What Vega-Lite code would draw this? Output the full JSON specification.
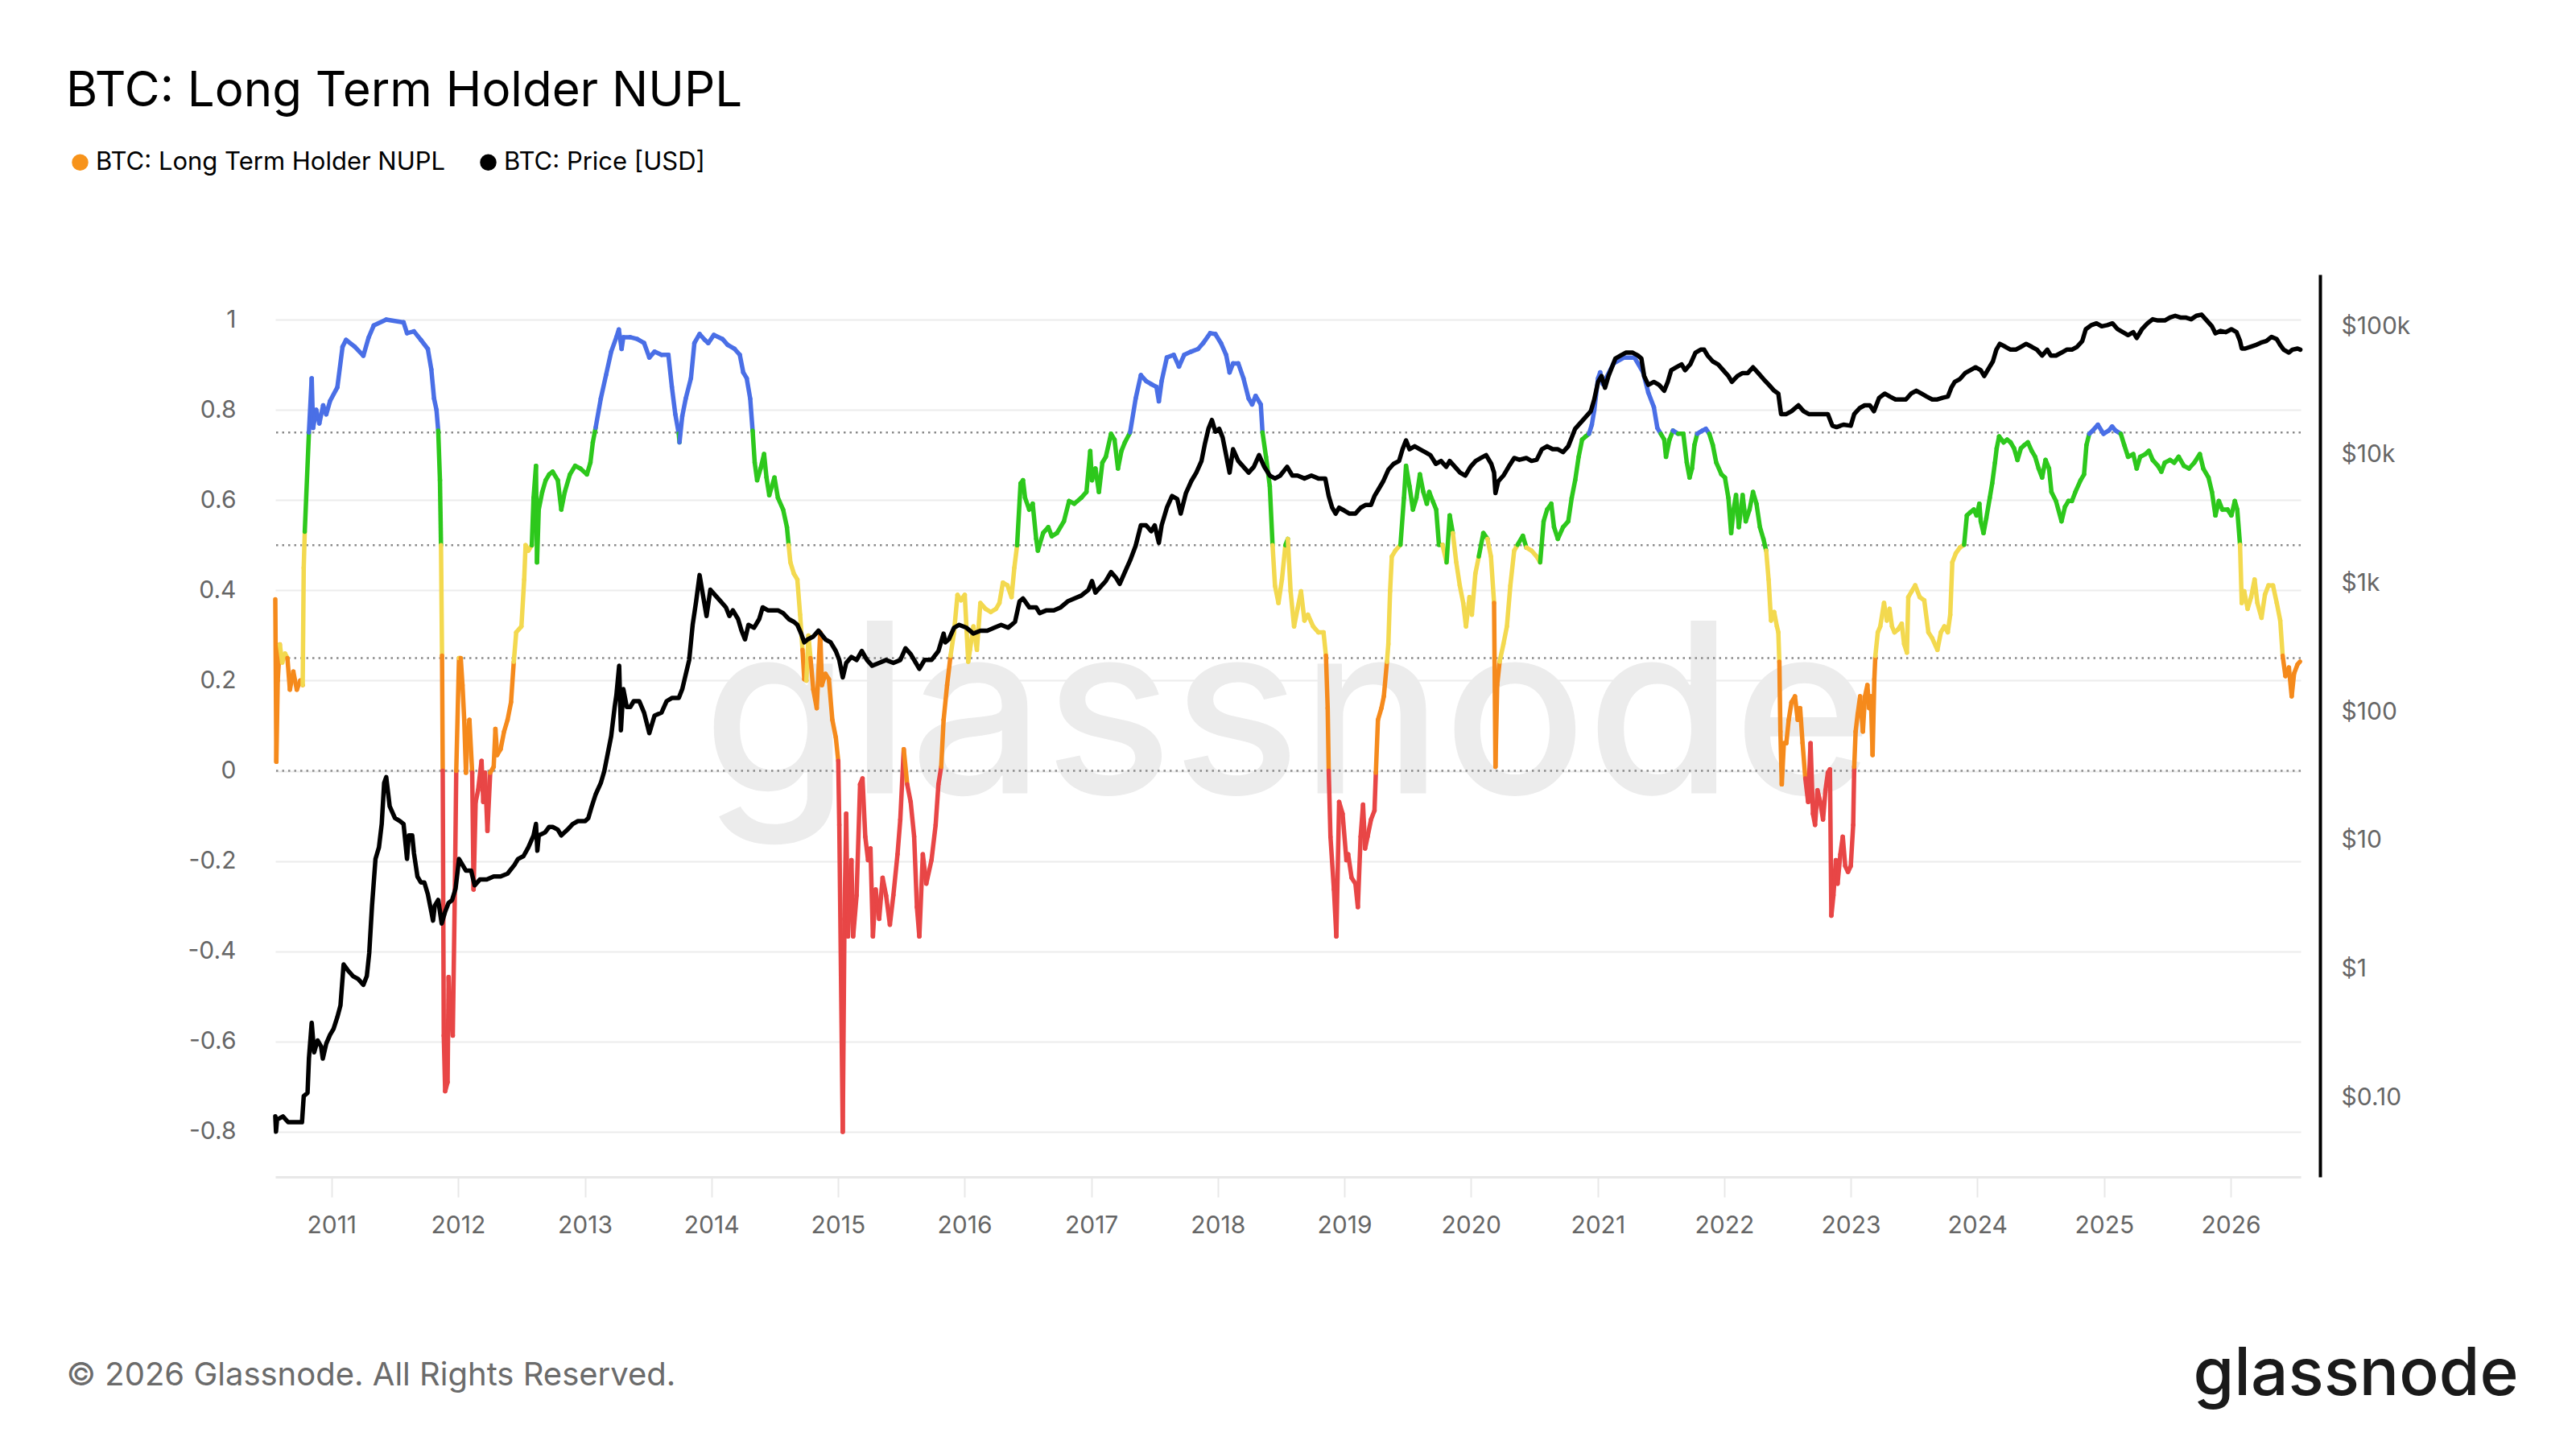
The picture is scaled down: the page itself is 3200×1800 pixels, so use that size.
{
  "$schema": "https://vega.github.io/schema/vega-lite/v6.json",
  "description": "BTC: Long Term Holder NUPL with BTC price",
  "width": 2516,
  "height": 1121,
  "autosize": {"type": "none"},
  "padding": {"left": 342, "top": 341, "right": 342, "bottom": 338},
  "background": "white",
  "config": {"view": {"stroke": null}, "font": "Inter"},
  "title": {
    "text": "BTC: Long Term Holder NUPL",
    "anchor": "start",
    "frame": "group",
    "font": "Inter",
    "fontSize": 60,
    "fontWeight": "normal",
    "color": "#000000",
    "baseline": "alphabetic",
    "dx": -260,
    "offset": -6
  },
  "layer": [
    {
      "layer": [
        {
          "data": {"values": [{"label": "glassnode"}]},
          "mark": {"type": "text", "font": "Inter", "fontSize": 295, "fontWeight": 500, "color": "#ececec", "align": "center", "baseline": "alphabetic"},
          "encoding": {
            "text": {"field": "label"},
            "x": {"datum": {"year": 2018, "month": 7, "date": 22, "utc": true}, "type": "temporal"},
            "y": {"datum": -0.05, "type": "quantitative"}
          }
        },
        {
          "data": {"values": [{"level": 0}, {"level": 0.25}, {"level": 0.5}, {"level": 0.75}]},
          "mark": {"type": "rule", "color": "#8a8a8a", "strokeWidth": 2.5, "strokeDash": [2.5, 5]},
          "encoding": {"y": {"field": "level", "type": "quantitative"}}
        },
        {
          "data": {
            "format": {"parse": {"date": "date"}},
            "values": [
              {"date": "2010-07-23", "value": 0.38}, {"date": "2010-07-26", "value": 0.02}, {"date": "2010-07-30", "value": 0.2}, {"date": "2010-08-05", "value": 0.28},
              {"date": "2010-08-12", "value": 0.24}, {"date": "2010-08-20", "value": 0.26}, {"date": "2010-08-27", "value": 0.25}, {"date": "2010-09-03", "value": 0.18},
              {"date": "2010-09-13", "value": 0.22}, {"date": "2010-09-23", "value": 0.18}, {"date": "2010-10-03", "value": 0.2}, {"date": "2010-10-10", "value": 0.19},
              {"date": "2010-10-13", "value": 0.45}, {"date": "2010-10-16", "value": 0.53}, {"date": "2010-10-28", "value": 0.75}, {"date": "2010-11-05", "value": 0.87},
              {"date": "2010-11-09", "value": 0.76}, {"date": "2010-11-18", "value": 0.8}, {"date": "2010-11-27", "value": 0.77}, {"date": "2010-12-08", "value": 0.81},
              {"date": "2010-12-17", "value": 0.79}, {"date": "2010-12-28", "value": 0.82}, {"date": "2011-01-18", "value": 0.85}, {"date": "2011-02-02", "value": 0.94},
              {"date": "2011-02-12", "value": 0.955}, {"date": "2011-03-09", "value": 0.94}, {"date": "2011-04-03", "value": 0.92}, {"date": "2011-04-18", "value": 0.96},
              {"date": "2011-05-03", "value": 0.987}, {"date": "2011-06-08", "value": 1.0}, {"date": "2011-07-28", "value": 0.994}, {"date": "2011-08-07", "value": 0.97},
              {"date": "2011-08-27", "value": 0.974}, {"date": "2011-09-16", "value": 0.955}, {"date": "2011-10-06", "value": 0.935}, {"date": "2011-10-16", "value": 0.89},
              {"date": "2011-10-24", "value": 0.825}, {"date": "2011-10-31", "value": 0.8}, {"date": "2011-11-05", "value": 0.754}, {"date": "2011-11-10", "value": 0.644},
              {"date": "2011-11-13", "value": 0.5}, {"date": "2011-11-16", "value": 0.255}, {"date": "2011-11-18", "value": 0.0}, {"date": "2011-11-21", "value": -0.587},
              {"date": "2011-11-25", "value": -0.71}, {"date": "2011-12-02", "value": -0.69}, {"date": "2011-12-05", "value": -0.457}, {"date": "2011-12-10", "value": -0.535},
              {"date": "2011-12-17", "value": -0.587}, {"date": "2011-12-23", "value": -0.263}, {"date": "2011-12-27", "value": 0.0}, {"date": "2012-01-04", "value": 0.25},
              {"date": "2012-01-09", "value": 0.25}, {"date": "2012-01-14", "value": 0.19}, {"date": "2012-01-19", "value": 0.113}, {"date": "2012-01-24", "value": -0.004},
              {"date": "2012-01-29", "value": 0.087}, {"date": "2012-02-03", "value": 0.113}, {"date": "2012-02-11", "value": -0.004}, {"date": "2012-02-15", "value": -0.263},
              {"date": "2012-02-21", "value": -0.069}, {"date": "2012-02-28", "value": -0.043}, {"date": "2012-03-09", "value": 0.022}, {"date": "2012-03-14", "value": -0.069},
              {"date": "2012-03-19", "value": -0.004}, {"date": "2012-03-26", "value": -0.133}, {"date": "2012-04-03", "value": -0.004}, {"date": "2012-04-13", "value": 0.009},
              {"date": "2012-04-18", "value": 0.093}, {"date": "2012-04-23", "value": 0.035}, {"date": "2012-05-03", "value": 0.048}, {"date": "2012-05-13", "value": 0.087},
              {"date": "2012-05-23", "value": 0.113}, {"date": "2012-06-02", "value": 0.152}, {"date": "2012-06-10", "value": 0.242}, {"date": "2012-06-17", "value": 0.307},
              {"date": "2012-07-02", "value": 0.32}, {"date": "2012-07-10", "value": 0.424}, {"date": "2012-07-14", "value": 0.5}, {"date": "2012-07-22", "value": 0.488},
              {"date": "2012-08-01", "value": 0.5}, {"date": "2012-08-06", "value": 0.605}, {"date": "2012-08-13", "value": 0.676}, {"date": "2012-08-16", "value": 0.462},
              {"date": "2012-08-21", "value": 0.579}, {"date": "2012-08-31", "value": 0.618}, {"date": "2012-09-10", "value": 0.644}, {"date": "2012-09-20", "value": 0.657},
              {"date": "2012-09-30", "value": 0.663}, {"date": "2012-10-15", "value": 0.644}, {"date": "2012-10-25", "value": 0.579}, {"date": "2012-11-04", "value": 0.618},
              {"date": "2012-11-19", "value": 0.657}, {"date": "2012-12-04", "value": 0.676}, {"date": "2012-12-19", "value": 0.67}, {"date": "2013-01-07", "value": 0.657},
              {"date": "2013-01-17", "value": 0.683}, {"date": "2013-01-24", "value": 0.728}, {"date": "2013-02-01", "value": 0.76}, {"date": "2013-02-16", "value": 0.825},
              {"date": "2013-03-03", "value": 0.877}, {"date": "2013-03-18", "value": 0.929}, {"date": "2013-04-02", "value": 0.961}, {"date": "2013-04-09", "value": 0.978},
              {"date": "2013-04-17", "value": 0.935}, {"date": "2013-04-22", "value": 0.961}, {"date": "2013-05-12", "value": 0.961}, {"date": "2013-06-01", "value": 0.957},
              {"date": "2013-06-21", "value": 0.948}, {"date": "2013-07-06", "value": 0.916}, {"date": "2013-07-21", "value": 0.929}, {"date": "2013-08-10", "value": 0.922},
              {"date": "2013-08-30", "value": 0.922}, {"date": "2013-09-09", "value": 0.851}, {"date": "2013-09-19", "value": 0.79}, {"date": "2013-09-29", "value": 0.747},
              {"date": "2013-10-01", "value": 0.728}, {"date": "2013-10-09", "value": 0.786}, {"date": "2013-10-19", "value": 0.825}, {"date": "2013-11-03", "value": 0.87},
              {"date": "2013-11-13", "value": 0.948}, {"date": "2013-11-28", "value": 0.968}, {"date": "2013-12-13", "value": 0.955}, {"date": "2013-12-23", "value": 0.948},
              {"date": "2014-01-08", "value": 0.966}, {"date": "2014-02-02", "value": 0.957}, {"date": "2014-02-17", "value": 0.944}, {"date": "2014-03-09", "value": 0.935},
              {"date": "2014-03-24", "value": 0.922}, {"date": "2014-04-03", "value": 0.883}, {"date": "2014-04-13", "value": 0.87}, {"date": "2014-04-23", "value": 0.825},
              {"date": "2014-04-30", "value": 0.754}, {"date": "2014-05-06", "value": 0.683}, {"date": "2014-05-13", "value": 0.644}, {"date": "2014-05-23", "value": 0.67},
              {"date": "2014-06-02", "value": 0.702}, {"date": "2014-06-09", "value": 0.65}, {"date": "2014-06-17", "value": 0.611}, {"date": "2014-07-02", "value": 0.65},
              {"date": "2014-07-12", "value": 0.605}, {"date": "2014-07-27", "value": 0.579}, {"date": "2014-08-07", "value": 0.54}, {"date": "2014-08-12", "value": 0.5},
              {"date": "2014-08-17", "value": 0.462}, {"date": "2014-08-27", "value": 0.437}, {"date": "2014-09-06", "value": 0.424}, {"date": "2014-09-14", "value": 0.346},
              {"date": "2014-09-21", "value": 0.268}, {"date": "2014-09-26", "value": 0.203}, {"date": "2014-10-02", "value": 0.2}, {"date": "2014-10-08", "value": 0.3},
              {"date": "2014-10-14", "value": 0.25}, {"date": "2014-10-22", "value": 0.18}, {"date": "2014-11-01", "value": 0.139}, {"date": "2014-11-11", "value": 0.307},
              {"date": "2014-11-16", "value": 0.19}, {"date": "2014-11-26", "value": 0.215}, {"date": "2014-12-06", "value": 0.203}, {"date": "2014-12-16", "value": 0.113},
              {"date": "2014-12-26", "value": 0.074}, {"date": "2015-01-02", "value": 0.022}, {"date": "2015-01-05", "value": -0.12}, {"date": "2015-01-10", "value": -0.457},
              {"date": "2015-01-15", "value": -0.8}, {"date": "2015-01-20", "value": -0.328}, {"date": "2015-01-25", "value": -0.095}, {"date": "2015-01-30", "value": -0.367},
              {"date": "2015-02-09", "value": -0.198}, {"date": "2015-02-14", "value": -0.367}, {"date": "2015-02-24", "value": -0.276}, {"date": "2015-03-06", "value": -0.03},
              {"date": "2015-03-13", "value": -0.017}, {"date": "2015-03-21", "value": -0.146}, {"date": "2015-03-29", "value": -0.198}, {"date": "2015-04-05", "value": -0.172},
              {"date": "2015-04-12", "value": -0.367}, {"date": "2015-04-20", "value": -0.263}, {"date": "2015-04-30", "value": -0.328}, {"date": "2015-05-10", "value": -0.237},
              {"date": "2015-05-20", "value": -0.276}, {"date": "2015-05-31", "value": -0.341}, {"date": "2015-06-10", "value": -0.276}, {"date": "2015-06-22", "value": -0.185},
              {"date": "2015-06-30", "value": -0.108}, {"date": "2015-07-10", "value": 0.048}, {"date": "2015-07-20", "value": -0.03}, {"date": "2015-07-30", "value": -0.069},
              {"date": "2015-08-09", "value": -0.146}, {"date": "2015-08-17", "value": -0.302}, {"date": "2015-08-24", "value": -0.367}, {"date": "2015-09-03", "value": -0.185},
              {"date": "2015-09-13", "value": -0.25}, {"date": "2015-09-28", "value": -0.198}, {"date": "2015-10-10", "value": -0.12}, {"date": "2015-10-18", "value": -0.03},
              {"date": "2015-10-26", "value": 0.009}, {"date": "2015-11-02", "value": 0.113}, {"date": "2015-11-12", "value": 0.19}, {"date": "2015-11-22", "value": 0.255},
              {"date": "2015-12-02", "value": 0.307}, {"date": "2015-12-12", "value": 0.39}, {"date": "2015-12-22", "value": 0.378}, {"date": "2016-01-02", "value": 0.39},
              {"date": "2016-01-12", "value": 0.242}, {"date": "2016-01-17", "value": 0.268}, {"date": "2016-01-27", "value": 0.32}, {"date": "2016-02-06", "value": 0.268},
              {"date": "2016-02-16", "value": 0.372}, {"date": "2016-03-02", "value": 0.359}, {"date": "2016-03-17", "value": 0.352}, {"date": "2016-04-01", "value": 0.359},
              {"date": "2016-04-11", "value": 0.372}, {"date": "2016-04-21", "value": 0.417}, {"date": "2016-05-04", "value": 0.411}, {"date": "2016-05-16", "value": 0.385},
              {"date": "2016-05-24", "value": 0.45}, {"date": "2016-06-01", "value": 0.5}, {"date": "2016-06-11", "value": 0.637}, {"date": "2016-06-18", "value": 0.644},
              {"date": "2016-06-24", "value": 0.605}, {"date": "2016-07-06", "value": 0.579}, {"date": "2016-07-16", "value": 0.592}, {"date": "2016-07-26", "value": 0.514},
              {"date": "2016-07-31", "value": 0.488}, {"date": "2016-08-15", "value": 0.527}, {"date": "2016-08-30", "value": 0.54}, {"date": "2016-09-09", "value": 0.52},
              {"date": "2016-09-24", "value": 0.527}, {"date": "2016-10-14", "value": 0.553}, {"date": "2016-10-29", "value": 0.598}, {"date": "2016-11-13", "value": 0.592},
              {"date": "2016-12-03", "value": 0.605}, {"date": "2016-12-18", "value": 0.618}, {"date": "2016-12-29", "value": 0.709}, {"date": "2017-01-03", "value": 0.644},
              {"date": "2017-01-13", "value": 0.67}, {"date": "2017-01-23", "value": 0.618}, {"date": "2017-02-02", "value": 0.683}, {"date": "2017-02-12", "value": 0.696},
              {"date": "2017-02-27", "value": 0.747}, {"date": "2017-03-09", "value": 0.734}, {"date": "2017-03-19", "value": 0.67}, {"date": "2017-03-29", "value": 0.709},
              {"date": "2017-04-08", "value": 0.728}, {"date": "2017-04-23", "value": 0.75}, {"date": "2017-05-09", "value": 0.825}, {"date": "2017-05-24", "value": 0.877},
              {"date": "2017-06-08", "value": 0.864}, {"date": "2017-06-23", "value": 0.857}, {"date": "2017-07-08", "value": 0.851}, {"date": "2017-07-15", "value": 0.819},
              {"date": "2017-07-23", "value": 0.864}, {"date": "2017-08-07", "value": 0.916}, {"date": "2017-08-27", "value": 0.922}, {"date": "2017-09-11", "value": 0.896},
              {"date": "2017-09-26", "value": 0.922}, {"date": "2017-10-16", "value": 0.929}, {"date": "2017-11-05", "value": 0.935}, {"date": "2017-11-20", "value": 0.948},
              {"date": "2017-12-10", "value": 0.97}, {"date": "2017-12-25", "value": 0.968}, {"date": "2018-01-10", "value": 0.948}, {"date": "2018-01-25", "value": 0.922},
              {"date": "2018-02-04", "value": 0.883}, {"date": "2018-02-14", "value": 0.903}, {"date": "2018-03-01", "value": 0.903}, {"date": "2018-03-16", "value": 0.87},
              {"date": "2018-03-31", "value": 0.825}, {"date": "2018-04-10", "value": 0.812}, {"date": "2018-04-20", "value": 0.831}, {"date": "2018-05-05", "value": 0.812},
              {"date": "2018-05-10", "value": 0.75}, {"date": "2018-05-20", "value": 0.696}, {"date": "2018-05-31", "value": 0.631}, {"date": "2018-06-08", "value": 0.5},
              {"date": "2018-06-15", "value": 0.41}, {"date": "2018-06-25", "value": 0.372}, {"date": "2018-07-05", "value": 0.424}, {"date": "2018-07-15", "value": 0.5},
              {"date": "2018-07-22", "value": 0.514}, {"date": "2018-07-30", "value": 0.398}, {"date": "2018-08-09", "value": 0.32}, {"date": "2018-08-19", "value": 0.359},
              {"date": "2018-08-29", "value": 0.398}, {"date": "2018-09-08", "value": 0.333}, {"date": "2018-09-18", "value": 0.346}, {"date": "2018-10-03", "value": 0.32},
              {"date": "2018-10-18", "value": 0.307}, {"date": "2018-11-02", "value": 0.307}, {"date": "2018-11-09", "value": 0.255}, {"date": "2018-11-14", "value": 0.139},
              {"date": "2018-11-17", "value": 0.0}, {"date": "2018-11-22", "value": -0.146}, {"date": "2018-12-02", "value": -0.263}, {"date": "2018-12-09", "value": -0.367},
              {"date": "2018-12-17", "value": -0.069}, {"date": "2018-12-27", "value": -0.095}, {"date": "2019-01-07", "value": -0.198}, {"date": "2019-01-12", "value": -0.185},
              {"date": "2019-01-22", "value": -0.237}, {"date": "2019-02-02", "value": -0.25}, {"date": "2019-02-09", "value": -0.302}, {"date": "2019-02-17", "value": -0.146},
              {"date": "2019-02-24", "value": -0.075}, {"date": "2019-03-02", "value": -0.172}, {"date": "2019-03-09", "value": -0.146}, {"date": "2019-03-19", "value": -0.108},
              {"date": "2019-03-29", "value": -0.088}, {"date": "2019-04-02", "value": -0.004}, {"date": "2019-04-08", "value": 0.113}, {"date": "2019-04-18", "value": 0.139},
              {"date": "2019-04-25", "value": 0.165}, {"date": "2019-05-04", "value": 0.242}, {"date": "2019-05-08", "value": 0.281}, {"date": "2019-05-13", "value": 0.398},
              {"date": "2019-05-18", "value": 0.475}, {"date": "2019-05-28", "value": 0.488}, {"date": "2019-06-12", "value": 0.501}, {"date": "2019-06-22", "value": 0.605},
              {"date": "2019-06-28", "value": 0.676}, {"date": "2019-07-08", "value": 0.631}, {"date": "2019-07-18", "value": 0.579}, {"date": "2019-07-28", "value": 0.605},
              {"date": "2019-08-07", "value": 0.657}, {"date": "2019-08-17", "value": 0.618}, {"date": "2019-08-27", "value": 0.592}, {"date": "2019-09-03", "value": 0.618},
              {"date": "2019-09-13", "value": 0.598}, {"date": "2019-09-23", "value": 0.579}, {"date": "2019-10-01", "value": 0.501}, {"date": "2019-10-11", "value": 0.501},
              {"date": "2019-10-23", "value": 0.462}, {"date": "2019-11-01", "value": 0.566}, {"date": "2019-11-10", "value": 0.527}, {"date": "2019-11-20", "value": 0.462},
              {"date": "2019-11-30", "value": 0.411}, {"date": "2019-12-10", "value": 0.372}, {"date": "2019-12-18", "value": 0.32}, {"date": "2019-12-28", "value": 0.385},
              {"date": "2020-01-04", "value": 0.346}, {"date": "2020-01-14", "value": 0.437}, {"date": "2020-01-24", "value": 0.475}, {"date": "2020-02-06", "value": 0.527},
              {"date": "2020-02-18", "value": 0.514}, {"date": "2020-02-28", "value": 0.475}, {"date": "2020-03-08", "value": 0.372}, {"date": "2020-03-12", "value": 0.009},
              {"date": "2020-03-17", "value": 0.19}, {"date": "2020-03-24", "value": 0.242}, {"date": "2020-04-04", "value": 0.281}, {"date": "2020-04-14", "value": 0.32},
              {"date": "2020-04-24", "value": 0.411}, {"date": "2020-05-05", "value": 0.488}, {"date": "2020-05-15", "value": 0.501}, {"date": "2020-05-30", "value": 0.521},
              {"date": "2020-06-09", "value": 0.495}, {"date": "2020-06-24", "value": 0.488}, {"date": "2020-07-09", "value": 0.475}, {"date": "2020-07-19", "value": 0.462},
              {"date": "2020-07-29", "value": 0.553}, {"date": "2020-08-08", "value": 0.579}, {"date": "2020-08-20", "value": 0.592}, {"date": "2020-08-28", "value": 0.54},
              {"date": "2020-09-08", "value": 0.514}, {"date": "2020-09-23", "value": 0.54}, {"date": "2020-10-08", "value": 0.553}, {"date": "2020-10-18", "value": 0.605},
              {"date": "2020-10-28", "value": 0.644}, {"date": "2020-11-07", "value": 0.696}, {"date": "2020-11-17", "value": 0.734}, {"date": "2020-11-27", "value": 0.741},
              {"date": "2020-12-07", "value": 0.747}, {"date": "2020-12-15", "value": 0.767}, {"date": "2020-12-22", "value": 0.799}, {"date": "2021-01-02", "value": 0.87},
              {"date": "2021-01-08", "value": 0.883}, {"date": "2021-01-16", "value": 0.857}, {"date": "2021-02-16", "value": 0.903}, {"date": "2021-03-18", "value": 0.916},
              {"date": "2021-04-17", "value": 0.916}, {"date": "2021-05-12", "value": 0.883}, {"date": "2021-05-27", "value": 0.838}, {"date": "2021-06-12", "value": 0.806},
              {"date": "2021-06-22", "value": 0.76}, {"date": "2021-07-02", "value": 0.747}, {"date": "2021-07-12", "value": 0.734}, {"date": "2021-07-17", "value": 0.696},
              {"date": "2021-07-27", "value": 0.734}, {"date": "2021-08-06", "value": 0.754}, {"date": "2021-08-21", "value": 0.747}, {"date": "2021-09-05", "value": 0.747},
              {"date": "2021-09-15", "value": 0.683}, {"date": "2021-09-23", "value": 0.65}, {"date": "2021-09-30", "value": 0.67}, {"date": "2021-10-07", "value": 0.722},
              {"date": "2021-10-15", "value": 0.747}, {"date": "2021-10-30", "value": 0.754}, {"date": "2021-11-09", "value": 0.758}, {"date": "2021-11-19", "value": 0.747},
              {"date": "2021-11-29", "value": 0.722}, {"date": "2021-12-09", "value": 0.683}, {"date": "2021-12-24", "value": 0.657}, {"date": "2022-01-03", "value": 0.65},
              {"date": "2022-01-13", "value": 0.605}, {"date": "2022-01-21", "value": 0.527}, {"date": "2022-01-28", "value": 0.579}, {"date": "2022-02-04", "value": 0.611},
              {"date": "2022-02-12", "value": 0.54}, {"date": "2022-02-23", "value": 0.611}, {"date": "2022-03-04", "value": 0.553}, {"date": "2022-03-15", "value": 0.579},
              {"date": "2022-03-25", "value": 0.618}, {"date": "2022-04-04", "value": 0.592}, {"date": "2022-04-14", "value": 0.54}, {"date": "2022-04-24", "value": 0.514},
              {"date": "2022-05-02", "value": 0.488}, {"date": "2022-05-09", "value": 0.424}, {"date": "2022-05-16", "value": 0.333}, {"date": "2022-05-25", "value": 0.352},
              {"date": "2022-06-02", "value": 0.32}, {"date": "2022-06-06", "value": 0.307}, {"date": "2022-06-09", "value": 0.242}, {"date": "2022-06-12", "value": 0.087},
              {"date": "2022-06-16", "value": -0.03}, {"date": "2022-06-22", "value": 0.061}, {"date": "2022-06-29", "value": 0.061}, {"date": "2022-07-06", "value": 0.113},
              {"date": "2022-07-14", "value": 0.152}, {"date": "2022-07-24", "value": 0.165}, {"date": "2022-08-01", "value": 0.113}, {"date": "2022-08-08", "value": 0.139},
              {"date": "2022-08-15", "value": 0.061}, {"date": "2022-08-23", "value": -0.017}, {"date": "2022-08-31", "value": -0.069}, {"date": "2022-09-07", "value": 0.061},
              {"date": "2022-09-14", "value": -0.095}, {"date": "2022-09-20", "value": -0.12}, {"date": "2022-09-27", "value": -0.043}, {"date": "2022-10-05", "value": -0.069},
              {"date": "2022-10-13", "value": -0.108}, {"date": "2022-10-20", "value": -0.043}, {"date": "2022-10-27", "value": -0.004}, {"date": "2022-11-02", "value": 0.003},
              {"date": "2022-11-06", "value": -0.321}, {"date": "2022-11-12", "value": -0.276}, {"date": "2022-11-19", "value": -0.198}, {"date": "2022-11-24", "value": -0.25},
              {"date": "2022-12-02", "value": -0.185}, {"date": "2022-12-09", "value": -0.146}, {"date": "2022-12-16", "value": -0.211}, {"date": "2022-12-24", "value": -0.224},
              {"date": "2023-01-01", "value": -0.211}, {"date": "2023-01-08", "value": -0.12}, {"date": "2023-01-11", "value": 0.009}, {"date": "2023-01-15", "value": 0.087},
              {"date": "2023-01-21", "value": 0.126}, {"date": "2023-01-28", "value": 0.165}, {"date": "2023-02-05", "value": 0.087}, {"date": "2023-02-11", "value": 0.165},
              {"date": "2023-02-18", "value": 0.19}, {"date": "2023-02-23", "value": 0.139}, {"date": "2023-02-28", "value": 0.165}, {"date": "2023-03-05", "value": 0.035},
              {"date": "2023-03-10", "value": 0.203}, {"date": "2023-03-13", "value": 0.255}, {"date": "2023-03-20", "value": 0.307}, {"date": "2023-03-27", "value": 0.32},
              {"date": "2023-04-07", "value": 0.372}, {"date": "2023-04-15", "value": 0.333}, {"date": "2023-04-23", "value": 0.359}, {"date": "2023-04-30", "value": 0.32},
              {"date": "2023-05-07", "value": 0.307}, {"date": "2023-05-17", "value": 0.313}, {"date": "2023-05-28", "value": 0.326}, {"date": "2023-06-04", "value": 0.281},
              {"date": "2023-06-12", "value": 0.262}, {"date": "2023-06-16", "value": 0.385}, {"date": "2023-06-26", "value": 0.398}, {"date": "2023-07-06", "value": 0.411},
              {"date": "2023-07-19", "value": 0.385}, {"date": "2023-08-01", "value": 0.378}, {"date": "2023-08-13", "value": 0.307}, {"date": "2023-08-24", "value": 0.294},
              {"date": "2023-09-08", "value": 0.268}, {"date": "2023-09-18", "value": 0.307}, {"date": "2023-09-28", "value": 0.32}, {"date": "2023-10-08", "value": 0.307},
              {"date": "2023-10-15", "value": 0.346}, {"date": "2023-10-21", "value": 0.462}, {"date": "2023-10-31", "value": 0.482}, {"date": "2023-11-12", "value": 0.495},
              {"date": "2023-11-24", "value": 0.501}, {"date": "2023-12-02", "value": 0.566}, {"date": "2023-12-12", "value": 0.573}, {"date": "2023-12-22", "value": 0.579},
              {"date": "2023-12-30", "value": 0.566}, {"date": "2024-01-07", "value": 0.592}, {"date": "2024-01-11", "value": 0.553}, {"date": "2024-01-19", "value": 0.527},
              {"date": "2024-01-27", "value": 0.56}, {"date": "2024-02-06", "value": 0.605}, {"date": "2024-02-13", "value": 0.637}, {"date": "2024-02-21", "value": 0.683},
              {"date": "2024-02-26", "value": 0.715}, {"date": "2024-03-04", "value": 0.741}, {"date": "2024-03-17", "value": 0.728}, {"date": "2024-03-27", "value": 0.734},
              {"date": "2024-04-06", "value": 0.728}, {"date": "2024-04-16", "value": 0.715}, {"date": "2024-04-26", "value": 0.689}, {"date": "2024-05-06", "value": 0.715},
              {"date": "2024-05-16", "value": 0.722}, {"date": "2024-05-26", "value": 0.728}, {"date": "2024-06-06", "value": 0.709}, {"date": "2024-06-16", "value": 0.696},
              {"date": "2024-06-26", "value": 0.67}, {"date": "2024-07-06", "value": 0.65}, {"date": "2024-07-16", "value": 0.689}, {"date": "2024-07-26", "value": 0.67},
              {"date": "2024-08-02", "value": 0.618}, {"date": "2024-08-15", "value": 0.598}, {"date": "2024-08-31", "value": 0.553}, {"date": "2024-09-10", "value": 0.585},
              {"date": "2024-09-20", "value": 0.598}, {"date": "2024-09-30", "value": 0.598}, {"date": "2024-10-10", "value": 0.618}, {"date": "2024-10-25", "value": 0.644},
              {"date": "2024-11-04", "value": 0.657}, {"date": "2024-11-11", "value": 0.722}, {"date": "2024-11-19", "value": 0.747}, {"date": "2024-11-29", "value": 0.754},
              {"date": "2024-12-14", "value": 0.767}, {"date": "2024-12-30", "value": 0.747}, {"date": "2025-01-14", "value": 0.754}, {"date": "2025-01-24", "value": 0.763},
              {"date": "2025-02-03", "value": 0.754}, {"date": "2025-02-18", "value": 0.747}, {"date": "2025-02-28", "value": 0.722}, {"date": "2025-03-11", "value": 0.696},
              {"date": "2025-03-26", "value": 0.702}, {"date": "2025-04-05", "value": 0.67}, {"date": "2025-04-15", "value": 0.696}, {"date": "2025-04-30", "value": 0.702},
              {"date": "2025-05-10", "value": 0.709}, {"date": "2025-05-21", "value": 0.689}, {"date": "2025-06-05", "value": 0.676}, {"date": "2025-06-15", "value": 0.663},
              {"date": "2025-06-25", "value": 0.683}, {"date": "2025-07-10", "value": 0.689}, {"date": "2025-07-22", "value": 0.683}, {"date": "2025-08-04", "value": 0.696},
              {"date": "2025-08-19", "value": 0.676}, {"date": "2025-09-03", "value": 0.67}, {"date": "2025-09-18", "value": 0.683}, {"date": "2025-10-04", "value": 0.702},
              {"date": "2025-10-14", "value": 0.67}, {"date": "2025-10-29", "value": 0.65}, {"date": "2025-11-08", "value": 0.618}, {"date": "2025-11-18", "value": 0.566},
              {"date": "2025-11-28", "value": 0.598}, {"date": "2025-12-08", "value": 0.579}, {"date": "2025-12-23", "value": 0.579}, {"date": "2026-01-03", "value": 0.566},
              {"date": "2026-01-13", "value": 0.598}, {"date": "2026-01-20", "value": 0.579}, {"date": "2026-01-28", "value": 0.501}, {"date": "2026-02-02", "value": 0.372},
              {"date": "2026-02-09", "value": 0.398}, {"date": "2026-02-19", "value": 0.359}, {"date": "2026-03-01", "value": 0.385}, {"date": "2026-03-11", "value": 0.424},
              {"date": "2026-03-19", "value": 0.372}, {"date": "2026-03-31", "value": 0.339}, {"date": "2026-04-10", "value": 0.391}, {"date": "2026-04-20", "value": 0.411},
              {"date": "2026-05-03", "value": 0.411}, {"date": "2026-05-14", "value": 0.372}, {"date": "2026-05-24", "value": 0.333}, {"date": "2026-05-31", "value": 0.255},
              {"date": "2026-06-08", "value": 0.21}, {"date": "2026-06-18", "value": 0.229}, {"date": "2026-06-26", "value": 0.165}, {"date": "2026-07-03", "value": 0.216},
              {"date": "2026-07-13", "value": 0.236}, {"date": "2026-07-20", "value": 0.242}
            ]
          },
          "transform": [
            {"window": [{"op": "lead", "field": "date", "as": "date2"}, {"op": "lead", "field": "value", "as": "value2"}], "sort": [{"field": "date", "order": "ascending"}]},
            {"filter": "datum.value2 != null"},
            {"calculate": "(datum.value + datum.value2) / 2 < 0 ? 'red' : (datum.value + datum.value2) / 2 < 0.25 ? 'orange' : (datum.value + datum.value2) / 2 < 0.5 ? 'yellow' : (datum.value + datum.value2) / 2 < 0.75 ? 'green' : 'blue'", "as": "band"}
          ],
          "mark": {"type": "rule", "strokeWidth": 5.5, "strokeCap": "round"},
          "encoding": {
            "x": {
              "field": "date",
              "type": "temporal",
              "scale": {"type": "utc", "domain": [{"year": 2010, "month": 7, "date": 23, "utc": true}, {"year": 2026, "month": 7, "date": 22, "utc": true}]},
              "axis": {
                "format": "%Y",
                "tickCount": {"interval": "year", "step": 1},
                "grid": false,
                "domainColor": "#e8e8e8",
                "domainWidth": 3,
                "tickColor": "#e8e8e8",
                "tickWidth": 2,
                "tickSize": 25,
                "labelPadding": 20,
                "labelFont": "Inter",
                "labelFontSize": 30,
                "labelColor": "#666666",
                "labelFlush": false,
                "labelOverlap": false,
                "title": "© 2026 Glassnode. All Rights Reserved.",
                "titleFont": "Inter",
                "titleFontSize": 40,
                "titleFontWeight": "normal",
                "titleColor": "#6b6b6b",
                "titleAlign": "left",
                "titleBaseline": "alphabetic",
                "titleX": -260,
                "titleY": 258
              }
            },
            "x2": {"field": "date2"},
            "y": {
              "field": "value",
              "type": "quantitative",
              "scale": {"domain": [-0.9, 1.1], "nice": false, "zero": false},
              "axis": {
                "title": null,
                "values": [-0.8, -0.6, -0.4, -0.2, 0, 0.2, 0.4, 0.6, 0.8, 1],
                "labelExpr": "'' + round(datum.value * 10) / 10",
                "grid": true,
                "gridColor": "#ececec",
                "gridWidth": 2,
                "domain": false,
                "ticks": false,
                "labelPadding": 49,
                "labelFont": "Inter",
                "labelFontSize": 30,
                "labelColor": "#666666"
              }
            },
            "y2": {"field": "value2"},
            "stroke": {
              "field": "band",
              "type": "nominal",
              "scale": {"domain": ["red", "orange", "yellow", "green", "blue"], "range": ["#e84646", "#f58a1c", "#f3d94f", "#2dc81c", "#4a6fe6"]},
              "legend": null
            }
          }
        }
      ]
    },
    {
      "data": {
        "format": {"parse": {"date": "date"}},
        "values": [
          {"date": "2010-07-23", "value": 0.071}, {"date": "2010-07-25", "value": 0.054}, {"date": "2010-07-28", "value": 0.067}, {"date": "2010-08-14", "value": 0.071},
          {"date": "2010-08-29", "value": 0.064}, {"date": "2010-09-13", "value": 0.064}, {"date": "2010-09-28", "value": 0.064}, {"date": "2010-10-08", "value": 0.064},
          {"date": "2010-10-13", "value": 0.102}, {"date": "2010-10-24", "value": 0.108}, {"date": "2010-10-28", "value": 0.2}, {"date": "2010-11-05", "value": 0.38},
          {"date": "2010-11-12", "value": 0.224}, {"date": "2010-11-22", "value": 0.277}, {"date": "2010-12-02", "value": 0.249}, {"date": "2010-12-07", "value": 0.2},
          {"date": "2010-12-17", "value": 0.262}, {"date": "2010-12-28", "value": 0.307}, {"date": "2011-01-07", "value": 0.341}, {"date": "2011-01-18", "value": 0.421},
          {"date": "2011-01-27", "value": 0.519}, {"date": "2011-02-05", "value": 1.08}, {"date": "2011-02-17", "value": 0.975}, {"date": "2011-03-04", "value": 0.877},
          {"date": "2011-03-19", "value": 0.832}, {"date": "2011-04-03", "value": 0.75}, {"date": "2011-04-13", "value": 0.877}, {"date": "2011-04-20", "value": 1.33},
          {"date": "2011-04-28", "value": 3.09}, {"date": "2011-05-08", "value": 7.15}, {"date": "2011-05-13", "value": 7.94}, {"date": "2011-05-18", "value": 8.81},
          {"date": "2011-05-26", "value": 13.4}, {"date": "2011-06-02", "value": 27.9}, {"date": "2011-06-08", "value": 31.0}, {"date": "2011-06-18", "value": 18.4},
          {"date": "2011-07-03", "value": 14.9}, {"date": "2011-07-18", "value": 14.1}, {"date": "2011-07-28", "value": 13.4}, {"date": "2011-08-07", "value": 7.15},
          {"date": "2011-08-12", "value": 10.9}, {"date": "2011-08-22", "value": 10.9}, {"date": "2011-08-27", "value": 7.94}, {"date": "2011-09-06", "value": 5.23},
          {"date": "2011-09-16", "value": 4.7}, {"date": "2011-09-26", "value": 4.7}, {"date": "2011-10-06", "value": 3.81}, {"date": "2011-10-16", "value": 2.78},
          {"date": "2011-10-21", "value": 2.37}, {"date": "2011-10-26", "value": 3.09}, {"date": "2011-11-05", "value": 3.43}, {"date": "2011-11-15", "value": 2.25},
          {"date": "2011-11-25", "value": 2.78}, {"date": "2011-12-05", "value": 3.26}, {"date": "2011-12-15", "value": 3.43}, {"date": "2011-12-25", "value": 4.2},
          {"date": "2012-01-04", "value": 7.15}, {"date": "2012-01-14", "value": 6.44}, {"date": "2012-01-24", "value": 5.8}, {"date": "2012-02-08", "value": 5.8},
          {"date": "2012-02-18", "value": 4.46}, {"date": "2012-03-04", "value": 4.95}, {"date": "2012-03-24", "value": 4.95}, {"date": "2012-04-13", "value": 5.23},
          {"date": "2012-05-03", "value": 5.23}, {"date": "2012-05-23", "value": 5.5}, {"date": "2012-06-12", "value": 6.44}, {"date": "2012-06-22", "value": 7.15},
          {"date": "2012-07-08", "value": 7.53}, {"date": "2012-07-22", "value": 8.81}, {"date": "2012-08-06", "value": 10.9}, {"date": "2012-08-13", "value": 13.4},
          {"date": "2012-08-17", "value": 8.3}, {"date": "2012-08-21", "value": 10.9}, {"date": "2012-09-08", "value": 11.5}, {"date": "2012-09-20", "value": 12.7},
          {"date": "2012-09-30", "value": 12.7}, {"date": "2012-10-15", "value": 12.1}, {"date": "2012-10-25", "value": 10.9}, {"date": "2012-11-12", "value": 12.1},
          {"date": "2012-11-27", "value": 13.4}, {"date": "2012-12-12", "value": 14.1}, {"date": "2013-01-02", "value": 14.1}, {"date": "2013-01-11", "value": 14.9},
          {"date": "2013-01-21", "value": 18.4}, {"date": "2013-02-01", "value": 22.7}, {"date": "2013-02-16", "value": 27.9}, {"date": "2013-02-26", "value": 34.5},
          {"date": "2013-03-08", "value": 47.2}, {"date": "2013-03-18", "value": 64.7}, {"date": "2013-03-28", "value": 109}, {"date": "2013-04-02", "value": 135},
          {"date": "2013-04-10", "value": 228}, {"date": "2013-04-15", "value": 71.8}, {"date": "2013-04-22", "value": 150}, {"date": "2013-05-02", "value": 109},
          {"date": "2013-05-12", "value": 109}, {"date": "2013-05-22", "value": 121}, {"date": "2013-06-07", "value": 121}, {"date": "2013-06-21", "value": 98.4},
          {"date": "2013-07-06", "value": 68.2}, {"date": "2013-07-21", "value": 93.3}, {"date": "2013-08-10", "value": 98.4}, {"date": "2013-08-25", "value": 121},
          {"date": "2013-09-09", "value": 128}, {"date": "2013-09-29", "value": 128}, {"date": "2013-10-09", "value": 150}, {"date": "2013-10-19", "value": 195},
          {"date": "2013-10-29", "value": 253}, {"date": "2013-11-08", "value": 475}, {"date": "2013-11-18", "value": 723}, {"date": "2013-11-28", "value": 1159},
          {"date": "2013-12-08", "value": 802}, {"date": "2013-12-18", "value": 556}, {"date": "2013-12-29", "value": 891}, {"date": "2014-01-13", "value": 802},
          {"date": "2014-01-28", "value": 723}, {"date": "2014-02-12", "value": 650}, {"date": "2014-02-22", "value": 556}, {"date": "2014-03-04", "value": 616},
          {"date": "2014-03-19", "value": 527}, {"date": "2014-03-29", "value": 428}, {"date": "2014-04-08", "value": 366}, {"date": "2014-04-18", "value": 475},
          {"date": "2014-05-04", "value": 450}, {"date": "2014-05-19", "value": 527}, {"date": "2014-05-29", "value": 650}, {"date": "2014-06-13", "value": 616},
          {"date": "2014-06-28", "value": 616}, {"date": "2014-07-12", "value": 616}, {"date": "2014-07-27", "value": 586}, {"date": "2014-08-12", "value": 527},
          {"date": "2014-08-27", "value": 501}, {"date": "2014-09-06", "value": 475}, {"date": "2014-09-17", "value": 406}, {"date": "2014-09-26", "value": 347},
          {"date": "2014-10-06", "value": 366}, {"date": "2014-10-22", "value": 385}, {"date": "2014-11-06", "value": 428}, {"date": "2014-11-26", "value": 366},
          {"date": "2014-12-11", "value": 347}, {"date": "2014-12-26", "value": 297}, {"date": "2015-01-05", "value": 253}, {"date": "2015-01-15", "value": 185},
          {"date": "2015-01-25", "value": 240}, {"date": "2015-02-09", "value": 267}, {"date": "2015-02-24", "value": 253}, {"date": "2015-03-11", "value": 297},
          {"date": "2015-03-26", "value": 253}, {"date": "2015-04-10", "value": 228}, {"date": "2015-04-30", "value": 240}, {"date": "2015-05-20", "value": 253},
          {"date": "2015-06-10", "value": 240}, {"date": "2015-06-30", "value": 253}, {"date": "2015-07-15", "value": 312}, {"date": "2015-07-30", "value": 281},
          {"date": "2015-08-14", "value": 240}, {"date": "2015-08-24", "value": 216}, {"date": "2015-09-08", "value": 253}, {"date": "2015-09-28", "value": 253},
          {"date": "2015-10-18", "value": 297}, {"date": "2015-11-02", "value": 406}, {"date": "2015-11-07", "value": 347}, {"date": "2015-11-17", "value": 366},
          {"date": "2015-12-02", "value": 451}, {"date": "2015-12-17", "value": 475}, {"date": "2016-01-07", "value": 451}, {"date": "2016-01-27", "value": 406},
          {"date": "2016-02-16", "value": 428}, {"date": "2016-03-07", "value": 428}, {"date": "2016-03-27", "value": 451}, {"date": "2016-04-16", "value": 475},
          {"date": "2016-05-06", "value": 451}, {"date": "2016-05-26", "value": 501}, {"date": "2016-06-08", "value": 723}, {"date": "2016-06-18", "value": 762},
          {"date": "2016-07-06", "value": 650}, {"date": "2016-07-26", "value": 650}, {"date": "2016-08-05", "value": 586}, {"date": "2016-08-25", "value": 616},
          {"date": "2016-09-15", "value": 616}, {"date": "2016-10-05", "value": 650}, {"date": "2016-10-25", "value": 723}, {"date": "2016-11-13", "value": 762},
          {"date": "2016-12-03", "value": 802}, {"date": "2016-12-24", "value": 891}, {"date": "2017-01-03", "value": 1042}, {"date": "2017-01-13", "value": 846},
          {"date": "2017-01-28", "value": 939}, {"date": "2017-02-12", "value": 1042}, {"date": "2017-02-27", "value": 1222}, {"date": "2017-03-14", "value": 1099},
          {"date": "2017-03-24", "value": 989}, {"date": "2017-04-08", "value": 1222}, {"date": "2017-04-23", "value": 1507}, {"date": "2017-05-09", "value": 1959},
          {"date": "2017-05-24", "value": 2827}, {"date": "2017-06-08", "value": 2827}, {"date": "2017-06-23", "value": 2543}, {"date": "2017-07-03", "value": 2827},
          {"date": "2017-07-15", "value": 2063}, {"date": "2017-07-23", "value": 2827}, {"date": "2017-08-07", "value": 3873}, {"date": "2017-08-22", "value": 4777},
          {"date": "2017-09-06", "value": 4533}, {"date": "2017-09-16", "value": 3486}, {"date": "2017-10-01", "value": 5034}, {"date": "2017-10-16", "value": 6208},
          {"date": "2017-10-31", "value": 7265}, {"date": "2017-11-15", "value": 8960}, {"date": "2017-11-25", "value": 12270}, {"date": "2017-12-05", "value": 15950},
          {"date": "2017-12-15", "value": 18670}, {"date": "2017-12-25", "value": 15130}, {"date": "2018-01-05", "value": 15950}, {"date": "2018-01-15", "value": 13620},
          {"date": "2018-01-25", "value": 9950}, {"date": "2018-02-04", "value": 7265}, {"date": "2018-02-14", "value": 11050}, {"date": "2018-03-01", "value": 8960},
          {"date": "2018-03-16", "value": 8070}, {"date": "2018-03-31", "value": 7265}, {"date": "2018-04-15", "value": 8070}, {"date": "2018-04-30", "value": 9950},
          {"date": "2018-05-15", "value": 8070}, {"date": "2018-05-31", "value": 6890}, {"date": "2018-06-15", "value": 6540}, {"date": "2018-06-30", "value": 6890},
          {"date": "2018-07-20", "value": 8070}, {"date": "2018-08-04", "value": 6890}, {"date": "2018-08-19", "value": 6890}, {"date": "2018-09-08", "value": 6540},
          {"date": "2018-09-28", "value": 6890}, {"date": "2018-10-18", "value": 6540}, {"date": "2018-11-07", "value": 6540}, {"date": "2018-11-17", "value": 4777},
          {"date": "2018-11-27", "value": 3873}, {"date": "2018-12-07", "value": 3486}, {"date": "2018-12-17", "value": 3873}, {"date": "2019-01-01", "value": 3680},
          {"date": "2019-01-16", "value": 3486}, {"date": "2019-02-02", "value": 3486}, {"date": "2019-02-17", "value": 3873}, {"date": "2019-03-04", "value": 4076},
          {"date": "2019-03-19", "value": 4076}, {"date": "2019-03-29", "value": 4777}, {"date": "2019-04-08", "value": 5297}, {"date": "2019-04-23", "value": 6208},
          {"date": "2019-05-08", "value": 7650}, {"date": "2019-05-23", "value": 8500}, {"date": "2019-06-08", "value": 8960}, {"date": "2019-06-18", "value": 11050},
          {"date": "2019-06-28", "value": 12950}, {"date": "2019-07-08", "value": 11050}, {"date": "2019-07-23", "value": 11650}, {"date": "2019-08-07", "value": 11050},
          {"date": "2019-08-22", "value": 10500}, {"date": "2019-09-06", "value": 9950}, {"date": "2019-09-22", "value": 8500}, {"date": "2019-10-07", "value": 8960},
          {"date": "2019-10-22", "value": 8070}, {"date": "2019-11-01", "value": 8960}, {"date": "2019-11-16", "value": 8070}, {"date": "2019-12-01", "value": 7265},
          {"date": "2019-12-16", "value": 6890}, {"date": "2019-12-31", "value": 8070}, {"date": "2020-01-15", "value": 8960}, {"date": "2020-01-30", "value": 9440},
          {"date": "2020-02-14", "value": 9950}, {"date": "2020-02-29", "value": 8500}, {"date": "2020-03-08", "value": 7265}, {"date": "2020-03-12", "value": 5034},
          {"date": "2020-03-20", "value": 6208}, {"date": "2020-04-04", "value": 6890}, {"date": "2020-04-19", "value": 8070}, {"date": "2020-05-05", "value": 9440},
          {"date": "2020-05-20", "value": 9150}, {"date": "2020-06-09", "value": 9440}, {"date": "2020-06-24", "value": 8960}, {"date": "2020-07-09", "value": 9150},
          {"date": "2020-07-24", "value": 11050}, {"date": "2020-08-08", "value": 11650}, {"date": "2020-08-24", "value": 11050}, {"date": "2020-09-08", "value": 11050},
          {"date": "2020-09-23", "value": 10500}, {"date": "2020-10-08", "value": 11650}, {"date": "2020-10-18", "value": 13620}, {"date": "2020-10-28", "value": 15950},
          {"date": "2020-11-12", "value": 17700}, {"date": "2020-11-27", "value": 19660}, {"date": "2020-12-12", "value": 21830}, {"date": "2020-12-22", "value": 26960},
          {"date": "2021-01-02", "value": 36920}, {"date": "2021-01-12", "value": 41020}, {"date": "2021-01-22", "value": 33270}, {"date": "2021-02-01", "value": 41020},
          {"date": "2021-02-11", "value": 48010}, {"date": "2021-02-21", "value": 56140}, {"date": "2021-03-08", "value": 59190}, {"date": "2021-03-23", "value": 62410},
          {"date": "2021-04-12", "value": 62410}, {"date": "2021-04-27", "value": 59190}, {"date": "2021-05-07", "value": 56140}, {"date": "2021-05-15", "value": 41020},
          {"date": "2021-05-27", "value": 35020}, {"date": "2021-06-12", "value": 36920}, {"date": "2021-06-27", "value": 35020}, {"date": "2021-07-12", "value": 31540},
          {"date": "2021-07-22", "value": 36920}, {"date": "2021-08-01", "value": 45530}, {"date": "2021-08-16", "value": 48010}, {"date": "2021-08-31", "value": 50610},
          {"date": "2021-09-10", "value": 45530}, {"date": "2021-09-25", "value": 50610}, {"date": "2021-10-10", "value": 62410}, {"date": "2021-10-25", "value": 65790},
          {"date": "2021-11-04", "value": 65790}, {"date": "2021-11-14", "value": 59190}, {"date": "2021-11-29", "value": 53280}, {"date": "2021-12-14", "value": 50610},
          {"date": "2021-12-29", "value": 45530}, {"date": "2022-01-13", "value": 41020}, {"date": "2022-01-23", "value": 36920}, {"date": "2022-02-08", "value": 41020},
          {"date": "2022-02-23", "value": 43250}, {"date": "2022-03-10", "value": 43250}, {"date": "2022-03-25", "value": 48010}, {"date": "2022-04-09", "value": 43250},
          {"date": "2022-04-24", "value": 38910}, {"date": "2022-05-10", "value": 35020}, {"date": "2022-05-25", "value": 31540}, {"date": "2022-06-06", "value": 29930},
          {"date": "2022-06-14", "value": 20740}, {"date": "2022-06-29", "value": 20740}, {"date": "2022-07-14", "value": 21830}, {"date": "2022-08-03", "value": 24270},
          {"date": "2022-08-18", "value": 21830}, {"date": "2022-09-02", "value": 20740}, {"date": "2022-09-22", "value": 20740}, {"date": "2022-10-12", "value": 20740},
          {"date": "2022-10-27", "value": 20740}, {"date": "2022-11-09", "value": 16830}, {"date": "2022-11-21", "value": 16430}, {"date": "2022-12-11", "value": 17170},
          {"date": "2023-01-01", "value": 16830}, {"date": "2023-01-11", "value": 20740}, {"date": "2023-01-26", "value": 23000}, {"date": "2023-02-10", "value": 24270},
          {"date": "2023-02-25", "value": 24270}, {"date": "2023-03-09", "value": 21830}, {"date": "2023-03-24", "value": 27800}, {"date": "2023-04-09", "value": 29930},
          {"date": "2023-04-24", "value": 28380}, {"date": "2023-05-10", "value": 26960}, {"date": "2023-05-25", "value": 26960}, {"date": "2023-06-09", "value": 26960},
          {"date": "2023-06-24", "value": 29930}, {"date": "2023-07-09", "value": 31540}, {"date": "2023-07-24", "value": 29930}, {"date": "2023-08-08", "value": 28380},
          {"date": "2023-08-24", "value": 26960}, {"date": "2023-09-08", "value": 26960}, {"date": "2023-09-23", "value": 27800}, {"date": "2023-10-08", "value": 28380},
          {"date": "2023-10-18", "value": 33270}, {"date": "2023-10-28", "value": 36920}, {"date": "2023-11-12", "value": 38910}, {"date": "2023-11-27", "value": 43250},
          {"date": "2023-12-12", "value": 45530}, {"date": "2023-12-27", "value": 48010}, {"date": "2024-01-11", "value": 45530}, {"date": "2024-01-21", "value": 41020},
          {"date": "2024-02-05", "value": 48010}, {"date": "2024-02-15", "value": 53280}, {"date": "2024-02-25", "value": 65790}, {"date": "2024-03-06", "value": 72980},
          {"date": "2024-03-22", "value": 69280}, {"date": "2024-04-06", "value": 65790}, {"date": "2024-04-21", "value": 65790}, {"date": "2024-05-06", "value": 69280},
          {"date": "2024-05-21", "value": 72980}, {"date": "2024-06-06", "value": 69280}, {"date": "2024-06-21", "value": 65790}, {"date": "2024-07-06", "value": 59190},
          {"date": "2024-07-21", "value": 65790}, {"date": "2024-07-31", "value": 59190}, {"date": "2024-08-15", "value": 59190}, {"date": "2024-08-31", "value": 62410},
          {"date": "2024-09-15", "value": 65790}, {"date": "2024-09-30", "value": 65790}, {"date": "2024-10-15", "value": 69280}, {"date": "2024-10-30", "value": 76900},
          {"date": "2024-11-09", "value": 94900}, {"date": "2024-11-25", "value": 102100}, {"date": "2024-12-10", "value": 105400}, {"date": "2024-12-25", "value": 100000},
          {"date": "2025-01-10", "value": 102100}, {"date": "2025-01-25", "value": 105400}, {"date": "2025-02-09", "value": 94900}, {"date": "2025-02-24", "value": 90000},
          {"date": "2025-03-11", "value": 85400}, {"date": "2025-03-26", "value": 90000}, {"date": "2025-04-05", "value": 81100}, {"date": "2025-04-20", "value": 94900},
          {"date": "2025-05-06", "value": 105400}, {"date": "2025-05-21", "value": 113400}, {"date": "2025-06-05", "value": 111000}, {"date": "2025-06-25", "value": 111000},
          {"date": "2025-07-10", "value": 117000}, {"date": "2025-07-25", "value": 120800}, {"date": "2025-08-09", "value": 117000}, {"date": "2025-08-24", "value": 117000},
          {"date": "2025-09-09", "value": 113400}, {"date": "2025-09-24", "value": 120800}, {"date": "2025-10-09", "value": 123300}, {"date": "2025-10-24", "value": 111000},
          {"date": "2025-11-08", "value": 100000}, {"date": "2025-11-18", "value": 88200}, {"date": "2025-12-03", "value": 92000}, {"date": "2025-12-18", "value": 90000},
          {"date": "2026-01-03", "value": 94900}, {"date": "2026-01-18", "value": 90000}, {"date": "2026-01-28", "value": 76900}, {"date": "2026-02-02", "value": 67100},
          {"date": "2026-02-12", "value": 67100}, {"date": "2026-02-27", "value": 69280}, {"date": "2026-03-14", "value": 71400}, {"date": "2026-03-29", "value": 74600},
          {"date": "2026-04-14", "value": 76900}, {"date": "2026-04-29", "value": 82800}, {"date": "2026-05-14", "value": 79400}, {"date": "2026-05-24", "value": 71400},
          {"date": "2026-06-03", "value": 65790}, {"date": "2026-06-18", "value": 62410}, {"date": "2026-06-28", "value": 65790}, {"date": "2026-07-13", "value": 67100},
          {"date": "2026-07-21", "value": 65790}
        ]
      },
      "mark": {"type": "line", "strokeWidth": 5.5, "strokeJoin": "round", "strokeCap": "round"},
      "encoding": {
        "x": {"field": "date", "type": "temporal"},
        "y": {
          "field": "value",
          "type": "quantitative",
          "scale": {"type": "log", "domain": [0.024, 253000], "nice": false},
          "axis": {
            "orient": "right",
            "offset": 24,
            "values": [0.1, 1, 10, 100, 1000, 10000, 100000],
            "labelExpr": "datum.value >= 1000 ? '$' + round(datum.value / 1000) + 'k' : datum.value < 1 ? '$0.10' : '$' + round(datum.value)",
            "grid": false,
            "ticks": false,
            "domain": true,
            "domainColor": "#000000",
            "domainWidth": 4,
            "labelPadding": 26,
            "labelFont": "Inter",
            "labelFontSize": 30,
            "labelColor": "#666666",
            "title": "glassnode",
            "titleAngle": 0,
            "titleFont": "Inter",
            "titleFontSize": 82,
            "titleFontWeight": 500,
            "titleColor": "#1a1a1a",
            "titleAlign": "left",
            "titleBaseline": "alphabetic",
            "titleX": -158,
            "titleY": 1391
          }
        },
        "color": {
          "datum": "BTC: Price [USD]",
          "type": "nominal",
          "scale": {"domain": ["BTC: Long Term Holder NUPL", "BTC: Price [USD]"], "range": ["#f7931a", "#000000"]},
          "legend": {
            "title": null,
            "orient": "none",
            "legendX": -258,
            "legendY": -155,
            "direction": "horizontal",
            "padding": 0,
            "symbolType": "circle",
            "symbolSize": 420,
            "symbolStrokeWidth": 0,
            "labelFont": "Inter",
            "labelFontSize": 31,
            "labelColor": "#000000",
            "labelOffset": 4,
            "labelLimit": 0,
            "columnPadding": 37,
            "encode": {"symbols": {"update": {"fill": {"scale": "color", "field": "value"}, "fillOpacity": {"value": 1}}}}
          }
        }
      }
    }
  ],
  "resolve": {"scale": {"y": "independent"}}
}
